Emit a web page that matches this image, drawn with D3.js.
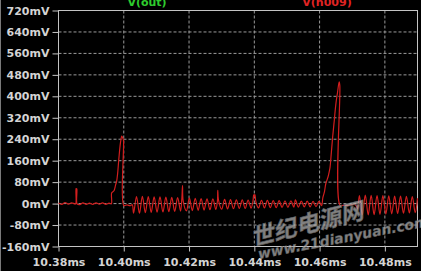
<!DOCTYPE html>
<html>
<head>
<meta charset="utf-8" />
<title>V(n009)</title>
<script src="https://d3js.org/d3.v7.min.js"></script>
<style>
  html, body { margin: 0; background: #000; overflow: hidden; }
  svg text { font-family: "DejaVu Sans", sans-serif; font-weight: bold; font-size: 11px; }
</style>
</head>
<body>
<div id="container"></div>
<script>
// axis ticks
var yTicks = [-160, -80, 0, 80, 160, 240, 320, 400, 480, 560, 640, 720];
var yTickLabels = ["-160mV", "-80mV", "0mV", "80mV", "160mV", "240mV", "320mV",
                   "400mV", "480mV", "560mV", "640mV", "720mV"];
var xTicks = [10.38, 10.40, 10.42, 10.44, 10.46, 10.48];
var xTickLabels = ["10.38ms", "10.40ms", "10.42ms", "10.44ms", "10.46ms", "10.48ms"];

// trace names
var traceNames = ["V(out)", "V(n009)"];

// V(n009): [time ms, mV]
var n009 = [
  [10.3800, 2], [10.3810, -3], [10.3820, 4], [10.3830, -2], [10.3840, 3],
  [10.3850, -1], [10.3853, 0], [10.3854, 56], [10.3856, 55], [10.3857, -1],
  [10.3865, -4], [10.3875, 3], [10.3885, -3], [10.3895, 2], [10.3905, -3],
  [10.3915, 3], [10.3925, -2], [10.3935, 3], [10.3945, -3], [10.3955, 2],
  [10.3962, -1],
  // first pulse
  [10.3963, 40], [10.3970, 48], [10.3975, 70], [10.3978, 82], [10.3981, 110],
  [10.3985, 168], [10.3990, 228], [10.3994, 252], [10.3997, 244], [10.3999, 238],
  [10.4000, -7], [10.4010, -5], [10.4020, -8], [10.4026, -4],
  // ringing
  [10.4030, -36], [10.4039, 26], [10.4048, -36], [10.4057, 27], [10.4066, -34],
  [10.4075, 26], [10.4084, -33], [10.4093, 25], [10.4102, -32], [10.4111, 25],
  [10.4120, -31], [10.4129, 24], [10.4138, -30], [10.4147, 23], [10.4156, -29],
  [10.4165, 22], [10.4174, -28], [10.4178, 20], [10.4180, 67], [10.4182, 10],
  [10.4192, -27], [10.4201, 21], [10.4210, -26], [10.4219, 20], [10.4228, -25],
  [10.4237, 19], [10.4246, -24], [10.4255, 18], [10.4264, -23], [10.4273, 18],
  [10.4282, -22], [10.4287, 10], [10.4288, 49], [10.4290, 15], [10.4300, -21],
  [10.4309, 16], [10.4318, -20], [10.4327, 15], [10.4336, -19], [10.4345, 14],
  [10.4354, -18], [10.4363, 14], [10.4372, -18], [10.4381, 13], [10.4390, -17],
  [10.4396, 10], [10.4398, 33], [10.4400, 28], [10.4402, 34], [10.4405, 5],
  [10.4413, -16], [10.4422, 12], [10.4431, -16], [10.4440, 12], [10.4449, -15],
  [10.4458, 11], [10.4467, -15], [10.4476, 11], [10.4485, -14], [10.4494, 10],
  [10.4503, -14], [10.4512, 10], [10.4521, -13], [10.4526, 14], [10.4535, -13],
  [10.4544, 9], [10.4553, -12], [10.4562, 9], [10.4571, -12], [10.4580, 8],
  [10.4589, -11], [10.4598, 8], [10.4606, -8],
  // second pulse
  [10.4610, 22], [10.4615, 45], [10.4619, 74], [10.4626, 100], [10.4630, 122],
  [10.4632, 135], [10.4636, 190], [10.4640, 248], [10.4645, 310], [10.4650, 373],
  [10.4655, 415], [10.4660, 454], [10.4662, 440], [10.4663, -7],
  [10.4675, -6], [10.4690, -7], [10.4700, -5], [10.4706, -2], [10.4712, -8],
  // ringing
  [10.4716, -20], [10.4722, 30], [10.4731, -42], [10.4740, 32], [10.4749, -42],
  [10.4758, 31], [10.4767, -41], [10.4776, 30], [10.4785, -40], [10.4794, 30],
  [10.4803, -39], [10.4812, 29], [10.4821, -38], [10.4830, 28], [10.4839, -37],
  [10.4848, 28], [10.4857, -36], [10.4866, 27], [10.4875, -35], [10.4884, 26],
  [10.4893, -34], [10.4900, 20]
];

var W = 421, H = 271;
var x = d3.scaleLinear().domain([10.38, 10.49]).range([58.5, 417.5]);
var y = d3.scaleLinear().domain([-160, 720]).range([246.5, 10.5]);

var svg = d3.select("#container").append("svg")
    .attr("width", W).attr("height", H)
    .style("display", "block")
    .style("background", "#000");

// left window border
svg.append("line")
    .attr("x1", 0.5).attr("x2", 0.5).attr("y1", 0).attr("y2", H)
    .attr("stroke", "#7a7a7a");

// grid
svg.append("g").attr("class", "grid")
  .selectAll("line.h").data(yTicks.slice(1, -1)).enter().append("line")
    .attr("x1", x.range()[0]).attr("x2", x.range()[1])
    .attr("y1", function(d) { return y(d); }).attr("y2", function(d) { return y(d); });
svg.select(".grid")
  .selectAll("line.v").data(xTicks.slice(1)).enter().append("line")
    .attr("x1", function(d) { return x(d); }).attr("x2", function(d) { return x(d); })
    .attr("y1", y.range()[1]).attr("y2", y.range()[0]);
svg.selectAll(".grid line")
    .attr("stroke", "#9a9a9a")
    .attr("stroke-dasharray", "3,2");

// axes
var yAxis = d3.axisLeft(y).tickValues(yTicks)
    .tickFormat(function(d, i) { return yTickLabels[i]; })
    .tickSize(6).tickPadding(3);
var xAxis = d3.axisBottom(x).tickValues(xTicks)
    .tickFormat(function(d, i) { return xTickLabels[i]; })
    .tickSize(5).tickPadding(7);

var gy = svg.append("g").attr("transform", "translate(" + x.range()[0] + ",0)").call(yAxis);
var gx = svg.append("g").attr("transform", "translate(0," + y.range()[0] + ")").call(xAxis);
[gy, gx].forEach(function(g) {
  g.select(".domain").remove();
  g.selectAll("line").attr("stroke", "#c4c4c4");
  g.selectAll("text").attr("fill", "#d4d4d4")
    .style("font-family", "'DejaVu Sans', sans-serif")
    .style("font-weight", "bold").style("font-size", "11px");
});

// frame
svg.append("rect")
    .attr("x", x.range()[0]).attr("y", y.range()[1])
    .attr("width", x.range()[1] - x.range()[0])
    .attr("height", y.range()[0] - y.range()[1])
    .attr("fill", "none").attr("stroke", "#c4c4c4");

// trace
var line = d3.line()
    .x(function(d) { return x(d[0]); })
    .y(function(d) { return y(d[1]); })
    .curve(d3.curveCatmullRom.alpha(0.5));

svg.append("path").datum(n009)
    .attr("d", line)
    .attr("fill", "none")
    .attr("stroke", "#d21e1e")
    .attr("stroke-width", 1.2);

// trace labels (cut at the top like the original)
svg.append("text").attr("x", 147).attr("y", 5.5).attr("text-anchor", "middle")
    .attr("fill", "#2ecc2e").text(traceNames[0]);
svg.append("text").attr("x", 327).attr("y", 5.5).attr("text-anchor", "middle")
    .attr("fill", "#e02424").text(traceNames[1]);

// watermark
svg.append("text")
    .attr("transform", "translate(253,246) rotate(-14)")
    .style("font-family", "'Noto Sans CJK SC', sans-serif")
    .style("font-size", "23px").style("font-style", "italic")
    .attr("fill", "#bcbcbc").attr("fill-opacity", 0.7)
    .attr("stroke", "#606060").attr("stroke-width", 0.6)
    .text("世纪电源网");
svg.append("text")
    .attr("transform", "translate(259,259) rotate(-11)")
    .style("font-size", "14px").style("font-style", "italic")
    .attr("fill", "#bcbcbc").attr("fill-opacity", 0.7)
    .attr("stroke", "#606060").attr("stroke-width", 0.4)
    .text("www.21dianyuan.com");
</script>
</body>
</html>
